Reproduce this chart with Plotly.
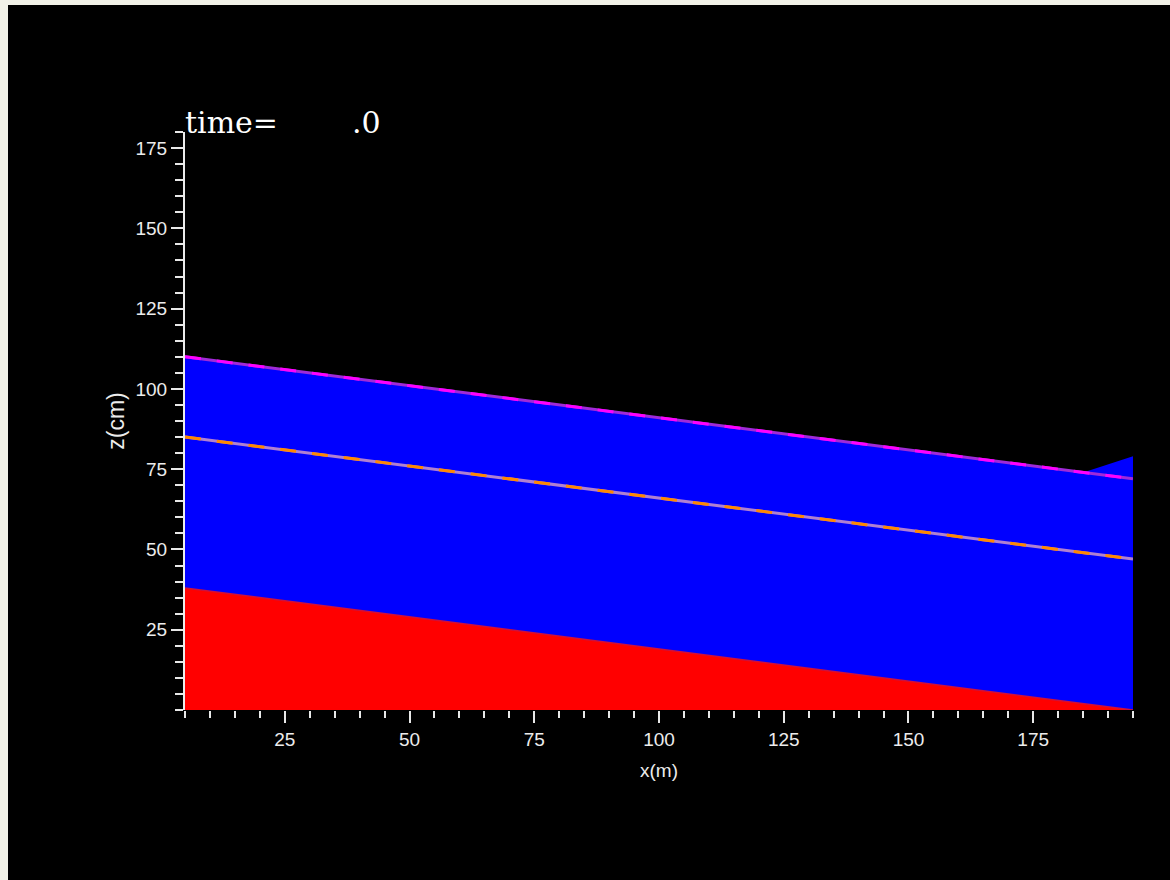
import plotly.graph_objects as go

# distance along channel (m)
x_m = [5, 15, 25, 35, 45, 55, 65, 75, 85, 95, 105, 115, 125, 135, 145, 155, 165, 175, 185, 195]
# bed elevation (cm)
bed_z = [38, 36, 34, 32, 30, 28, 26, 24, 22, 20, 18, 16, 14, 12, 10, 8, 6, 4, 2, 0]
# water surface elevation (cm)
water_z = [110, 108, 106, 104, 102, 100, 98, 96, 94, 92, 90, 88, 86, 84, 82, 80, 78, 76, 74, 79]
# magenta reference line (cm)
upper_line_z = [110, 108, 106, 104, 102, 100, 98, 96, 94, 92, 90, 88, 86, 84, 82, 80, 78, 76, 74, 72]
# orange line (cm)
mid_line_z = [85, 83, 81, 79, 77, 75, 73, 71, 69, 67, 65, 63, 61, 59, 57, 55, 53, 51, 49, 47]

x_ticks = [25, 50, 75, 100, 125, 150, 175]
y_ticks = [25, 50, 75, 100, 125, 150, 175]

time_label = "time="
time_value = ".0"

W, H = 1170, 880
L, R, T, B = 185, 37, 132, 170
pw, ph = W - L - R, H - T - B

def px(xp):
    return (xp - L) / pw

def py(yp):
    return (H - B - yp) / ph

fig = go.Figure()

fig.add_trace(go.Scatter(x=x_m, y=bed_z, mode="lines", fill="tozeroy",
                         fillcolor="#ff0000", line=dict(color="#d0103c", width=1.5),
                         hoverinfo="skip", showlegend=False))
fig.add_trace(go.Scatter(x=x_m, y=water_z, mode="lines", fill="tonexty",
                         fillcolor="#0000ff", line=dict(color="#0000ff", width=0),
                         hoverinfo="skip", showlegend=False))
# magenta line (two-tone like the original staircase rendering)
fig.add_trace(go.Scatter(x=x_m, y=upper_line_z, mode="lines",
                         line=dict(color="#a02ad8", width=3), hoverinfo="skip", showlegend=False))
fig.add_trace(go.Scatter(x=x_m, y=upper_line_z, mode="lines",
                         line=dict(color="#ff00ff", width=3, dash="16px,16px"),
                         hoverinfo="skip", showlegend=False))
# orange line
fig.add_trace(go.Scatter(x=x_m, y=mid_line_z, mode="lines",
                         line=dict(color="#b080d0", width=3), hoverinfo="skip", showlegend=False))
fig.add_trace(go.Scatter(x=x_m, y=mid_line_z, mode="lines",
                         line=dict(color="#ff8800", width=3, dash="16px,16px"),
                         hoverinfo="skip", showlegend=False))

tickfont = dict(family="Liberation Sans, Arial, sans-serif", size=19, color="#ececec")

fig.update_layout(
    width=W, height=H,
    margin=dict(l=L, r=R, t=T, b=B, pad=0),
    paper_bgcolor="#f2f2e8",
    plot_bgcolor="#000000",
    showlegend=False,
    shapes=[dict(type="rect", xref="paper", yref="paper",
                 x0=px(8), x1=px(1175), y0=py(885), y1=py(5),
                 fillcolor="#000000", line=dict(width=0), layer="below")],
    xaxis=dict(range=[5, 195], showgrid=False, zeroline=False, showline=False,
               ticks="outside", tickmode="array", tickvals=x_ticks,
               ticklen=12, tickwidth=2, tickcolor="#e8e8e8",
               minor=dict(ticks="outside", tickmode="linear", tick0=0, dtick=5, ticklen=7, tickwidth=2,
                          tickcolor="#e8e8e8", showgrid=False),
               tickfont=tickfont,
               title=dict(text="x(m)", font=tickfont, standoff=14)),
    yaxis=dict(range=[0, 180], showgrid=False, zeroline=False, showline=True,
               linecolor="#ececec", linewidth=2,
               ticks="outside", tickmode="array", tickvals=y_ticks,
               ticklen=12, tickwidth=2, tickcolor="#e8e8e8",
               minor=dict(ticks="outside", tickmode="linear", tick0=0, dtick=5, ticklen=8, tickwidth=2,
                          tickcolor="#e8e8e8", showgrid=False),
               tickfont=tickfont,
               title=dict(text="z(cm)", font=dict(family="Liberation Sans, Arial, sans-serif",
                                                  size=23, color="#ececec"), standoff=4)),
    annotations=[
        dict(text=time_label, xref="paper", yref="paper", x=px(183), y=py(142),
             xanchor="left", yanchor="bottom", showarrow=False,
             font=dict(family="DejaVu Serif, serif", size=30, color="#ffffff")),
        dict(text=time_value, xref="paper", yref="paper", x=px(350), y=py(142),
             xanchor="left", yanchor="bottom", showarrow=False,
             font=dict(family="DejaVu Serif, serif", size=30, color="#ffffff")),
    ],
)

fig.write_html("out.html")
